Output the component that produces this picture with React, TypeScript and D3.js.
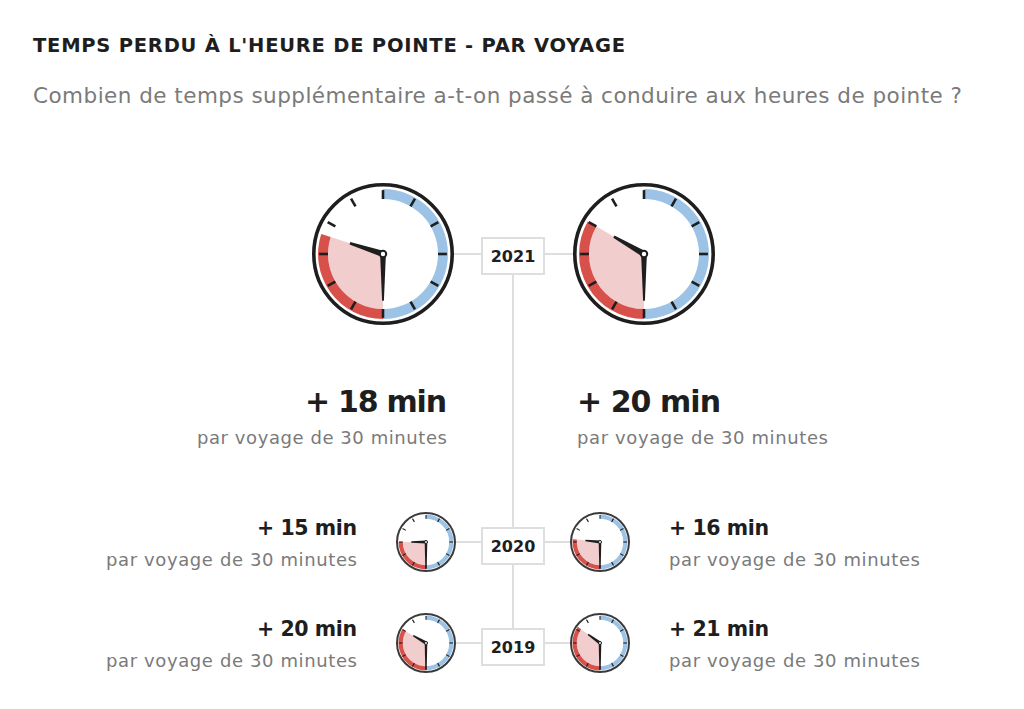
import React from "react";
import * as d3 from "d3";

const years = ["2021", "2020", "2019"];
const leftValues = [18, 15, 20];
const rightValues = [20, 16, 21];
const tripMinutes = 30;
const subLabel = "par voyage de 30 minutes";
const title = "TEMPS PERDU À L'HEURE DE POINTE - PAR VOYAGE";
const subtitle =
  "Combien de temps supplémentaire a-t-on passé à conduire aux heures de pointe ?";

const BLUE = "#9cc3e6";
const RED = "#d8504a";
const PINK = "#f2cdcd";
const INK = "#1e1e1e";
const GRAY = "#7a7a7a";
const LINE = "#dedede";
const FONT = "'DejaVu Sans', 'Open Sans', sans-serif";

const angle = d3.scaleLinear().domain([0, 60]).range([0, 2 * Math.PI]);

function pt(a: number, rr: number, cx: number, cy: number): [number, number] {
  return [cx + Math.sin(a) * rr, cy - Math.cos(a) * rr];
}

function hand(cx: number, cy: number, a: number, len: number, w0: number, w1: number) {
  const [tx, ty] = pt(a, len, cx, cy);
  const px = Math.cos(a);
  const py = Math.sin(a);
  const pts = [
    [cx + px * w0, cy + py * w0],
    [tx + px * w1, ty + py * w1],
    [tx - px * w1, ty - py * w1],
    [cx - px * w0, cy - py * w0],
  ];
  return pts.map((p) => p.join(",")).join(" ");
}

function Clock({ cx, cy, r, value, small }: { cx: number; cy: number; r: number; value: number; small?: boolean }) {
  const k = r / 71;
  const inner = r * 0.775;
  const outer = r * 0.915;
  const arc = d3.arc<any>();
  const blue = arc({ innerRadius: inner, outerRadius: outer, startAngle: angle(0), endAngle: angle(tripMinutes) }) as string;
  const red = arc({ innerRadius: inner, outerRadius: outer, startAngle: angle(tripMinutes), endAngle: angle(tripMinutes + value) }) as string;
  const sector = arc({ innerRadius: 0, outerRadius: inner, startAngle: angle(tripMinutes), endAngle: angle(tripMinutes + value) }) as string;
  const ticks = d3.range(0, 60, 5);
  const minLen = small ? r * 0.88 : r * 0.66;
  const hourLen = r * 0.49;
  const hw = small ? 1.6 : 2.8 * k + 0.3;
  return (
    <g>
      <circle cx={cx} cy={cy} r={r - (small ? 1 : 1.8)} fill="#fff" stroke={small ? "#3a3a3a" : INK} strokeWidth={small ? 2 : 3.6} />
      <path d={sector} transform={`translate(${cx},${cy})`} fill={PINK} />
      <path d={blue} transform={`translate(${cx},${cy})`} fill={BLUE} />
      <path d={red} transform={`translate(${cx},${cy})`} fill={RED} />
      {ticks.map((m) => {
        const a = angle(m);
        const [x1, y1] = pt(a, inner, cx, cy);
        const [x2, y2] = pt(a, r * 0.9, cx, cy);
        return <line key={m} x1={x1} y1={y1} x2={x2} y2={y2} stroke={INK} strokeWidth={Math.max(1, 2.6 * k)} />;
      })}
      <polygon points={hand(cx, cy, angle(tripMinutes + value), hourLen, hw, small ? 0.8 : 1.2 * k)} fill={INK} />
      <polygon points={hand(cx, cy, angle(tripMinutes), minLen, small ? 1.3 : 2.6 * k + 0.3, small ? 0.7 : 0.9 * k)} fill={INK} />
      <circle cx={cx} cy={cy} r={Math.max(1.5, 3.2 * k)} fill="#fff" stroke={INK} strokeWidth={Math.max(1, 2 * k)} />
    </g>
  );
}

function YearBox({ x, y, label }: { x: number; y: number; label: string }) {
  return (
    <g>
      <rect x={x - 31} y={y - 18} width={62} height={36} fill="#fff" stroke={LINE} strokeWidth={2} />
      <text x={x} y={y + 6} textAnchor="middle" fontFamily={FONT} fontSize={16} fontWeight={700} fill={INK}>
        {label}
      </text>
    </g>
  );
}

export default function App() {
  const midX = 513;
  const big = { y: 254, r: 71, lx: 383, rx: 644 };
  const smallRows = [
    { y: 542, idx: 1 },
    { y: 643, idx: 2 },
  ];
  const small = { r: 30, lx: 426, rx: 600 };
  return (
    <svg width={1024} height={709} style={{ position: "absolute", left: 0, top: 0, background: "#fff" }}>
      <rect width={1024} height={709} fill="#fff" />
      <text x={33} y={52} fontFamily={FONT} fontSize={19.5} fontWeight={700} fill={INK} textLength={592} lengthAdjust="spacing">
        {title}
      </text>
      <text x={33} y={103} fontFamily={FONT} fontSize={21.5} fill={GRAY} textLength={929} lengthAdjust="spacing">
        {subtitle}
      </text>

      {/* timeline */}
      <line x1={midX} x2={midX} y1={big.y} y2={smallRows[1].y} stroke={LINE} strokeWidth={2} />
      <line x1={big.lx + big.r} x2={big.rx - big.r} y1={big.y} y2={big.y} stroke={LINE} strokeWidth={2} />
      {smallRows.map((row) => (
        <line key={row.idx} x1={small.lx + small.r} x2={small.rx - small.r} y1={row.y} y2={row.y} stroke={LINE} strokeWidth={2} />
      ))}

      <Clock cx={big.lx} cy={big.y} r={big.r} value={leftValues[0]} />
      <Clock cx={big.rx} cy={big.y} r={big.r} value={rightValues[0]} />
      <YearBox x={midX} y={big.y + 2} label={years[0]} />

      <text x={447} y={412} textAnchor="end" fontFamily={FONT} fontSize={30} fontWeight={700} fill={INK} textLength={142} lengthAdjust="spacing">
        {`+ ${leftValues[0]} min`}
      </text>
      <text x={447} y={444} textAnchor="end" fontFamily={FONT} fontSize={18} fill={GRAY} textLength={250} lengthAdjust="spacing">
        {subLabel}
      </text>
      <text x={577} y={412} textAnchor="start" fontFamily={FONT} fontSize={30} fontWeight={700} fill={INK} textLength={144} lengthAdjust="spacing">
        {`+ ${rightValues[0]} min`}
      </text>
      <text x={577} y={444} textAnchor="start" fontFamily={FONT} fontSize={18} fill={GRAY} textLength={251} lengthAdjust="spacing">
        {subLabel}
      </text>

      {smallRows.map((row) => (
        <g key={row.idx}>
          <Clock cx={small.lx} cy={row.y} r={small.r} value={leftValues[row.idx]} small />
          <Clock cx={small.rx} cy={row.y} r={small.r} value={rightValues[row.idx]} small />
          <YearBox x={midX} y={row.y + 4} label={years[row.idx]} />
          <text x={357} y={row.y - 7} textAnchor="end" fontFamily={FONT} fontSize={20.5} fontWeight={700} fill={INK} textLength={100} lengthAdjust="spacing">
            {`+ ${leftValues[row.idx]} min`}
          </text>
          <text x={357} y={row.y + 24} textAnchor="end" fontFamily={FONT} fontSize={18} fill={GRAY} textLength={251} lengthAdjust="spacing">
            {subLabel}
          </text>
          <text x={669} y={row.y - 7} textAnchor="start" fontFamily={FONT} fontSize={20.5} fontWeight={700} fill={INK} textLength={100} lengthAdjust="spacing">
            {`+ ${rightValues[row.idx]} min`}
          </text>
          <text x={669} y={row.y + 24} textAnchor="start" fontFamily={FONT} fontSize={18} fill={GRAY} textLength={251} lengthAdjust="spacing">
            {subLabel}
          </text>
        </g>
      ))}
    </svg>
  );
}
